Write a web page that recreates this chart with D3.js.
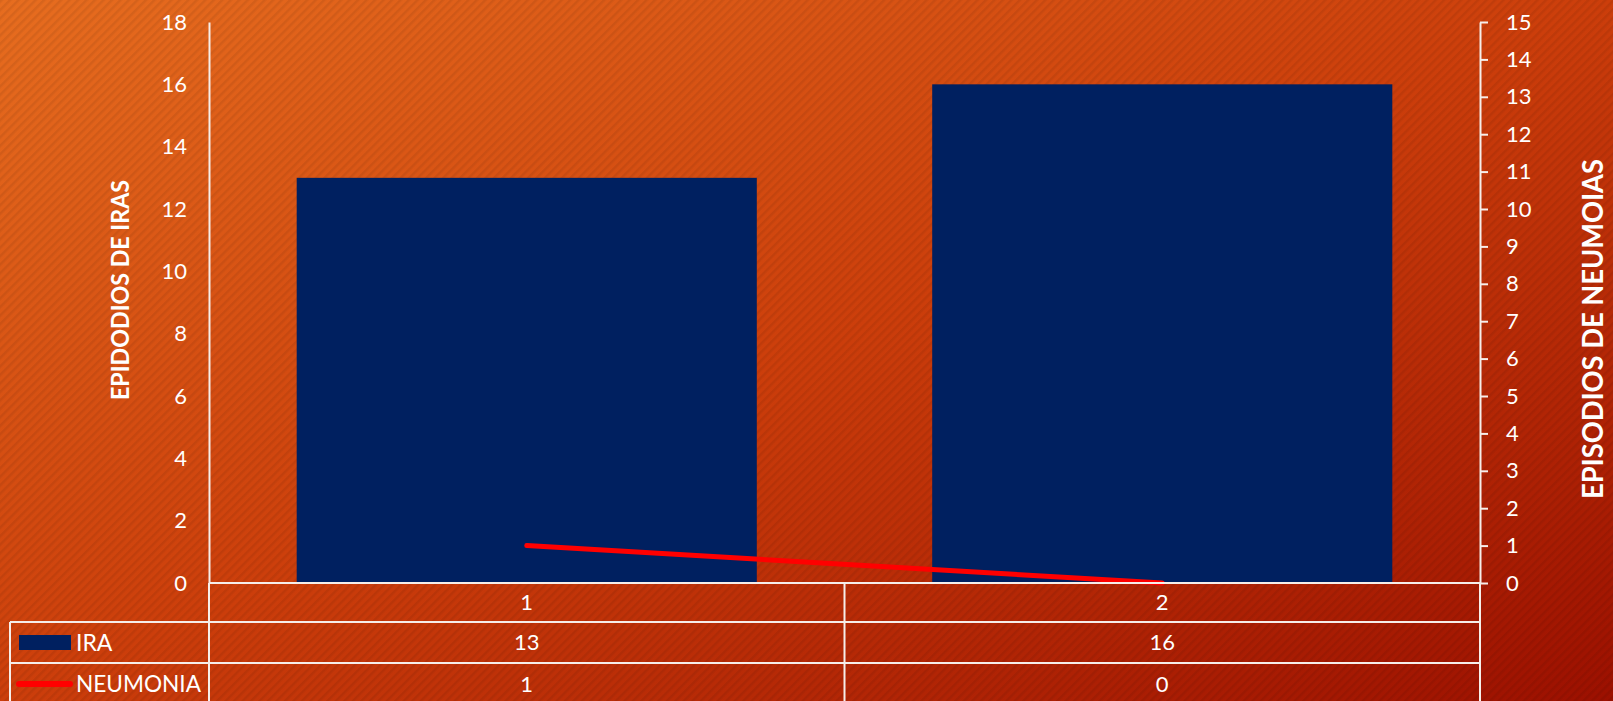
<!DOCTYPE html>
<html>
<head>
<meta charset="utf-8">
<script src="https://cdn.jsdelivr.net/npm/d3@7"></script>
<style>
  html, body { margin: 0; padding: 0; overflow: hidden; background: #c94010; }
  svg { display: block; }
  text { font-family: Lato, "Open Sans", sans-serif; fill: #ffffff; }
</style>
</head>
<body>
<svg id="chart" width="1613" height="701"></svg>
<script>
// ---- data ----
const categories = ["1", "2"];
const seriesNames = ["IRA", "NEUMONIA"];
const iraValues = [13, 16];
const neumoniaValues = [1, 0];
const leftTicks = [0, 2, 4, 6, 8, 10, 12, 14, 16, 18];
const rightTicks = [0, 1, 2, 3, 4, 5, 6, 7, 8, 9, 10, 11, 12, 13, 14, 15];
const leftTitle = "EPIDODIOS DE IRAS";
const rightTitle = "EPISODIOS DE NEUMOIAS";

// ---- layout ----
const W = 1613, H = 701;
const plotLeft = 209, plotRight = 1480, plotTop = 22, plotBottom = 583;
const row1 = 622, row2 = 663, tableBottom = 705, tableLeft = 10;

const svg = d3.select("#chart");
const defs = svg.append("defs");

const grad = defs.append("linearGradient").attr("id", "bg")
  .attr("x1", "0").attr("y1", "0").attr("x2", "1").attr("y2", "1");
grad.append("stop").attr("offset", "0").attr("stop-color", "#e76d1f");
grad.append("stop").attr("offset", "0.5").attr("stop-color", "#cc3e0b");
grad.append("stop").attr("offset", "1").attr("stop-color", "#9c1000");

const pat = defs.append("pattern").attr("id", "stripes")
  .attr("patternUnits", "userSpaceOnUse").attr("width", 6).attr("height", 6)
  .attr("patternTransform", "rotate(45)");
pat.append("rect").attr("x", 0).attr("y", 0).attr("width", 2.5).attr("height", 6)
  .attr("fill", "#000").attr("fill-opacity", 0.07);

svg.append("rect").attr("width", W).attr("height", H).attr("fill", "url(#bg)");
svg.append("rect").attr("width", W).attr("height", H).attr("fill", "url(#stripes)");

// ---- scales ----
const x = d3.scaleBand().domain(categories).range([plotLeft, plotRight])
  .paddingInner(0.276).paddingOuter(0.138);
const xCol = d3.scaleBand().domain(categories).range([plotLeft, plotRight]).padding(0);
const yL = d3.scaleLinear().domain([0, 18]).range([plotBottom, plotTop]);
const yR = d3.scaleLinear().domain([0, 15]).range([plotBottom, plotTop]);

// ---- bars ----
svg.append("g").selectAll("rect").data(categories).join("rect")
  .attr("x", d => x(d))
  .attr("width", x.bandwidth())
  .attr("y", (d, i) => yL(iraValues[i]))
  .attr("height", (d, i) => yL(0) - yL(iraValues[i]))
  .attr("fill", "#002060");

// ---- line ----
const line = d3.line()
  .x((d, i) => x(categories[i]) + x.bandwidth() / 2)
  .y(d => yR(d));
svg.append("path").datum(neumoniaValues)
  .attr("d", line)
  .attr("fill", "none").attr("stroke", "#ff0000")
  .attr("stroke-width", 5).attr("stroke-linecap", "round");

// ---- axes ----
const lineColor = "#f6eeea";
const gL = svg.append("g").attr("transform", `translate(${plotLeft},0)`)
  .call(d3.axisLeft(yL).tickValues(leftTicks).tickSize(0).tickSizeOuter(0).tickPadding(22));
gL.select(".domain").attr("stroke", lineColor).attr("stroke-width", 2);
gL.selectAll("text").style("font-size", "22px").attr("fill", "#fff");

const gR = svg.append("g").attr("transform", `translate(${plotRight},0)`)
  .call(d3.axisRight(yR).tickValues(rightTicks).tickSize(8).tickSizeOuter(0).tickPadding(18));
gR.select(".domain").attr("stroke", lineColor).attr("stroke-width", 2);
gR.selectAll(".tick line").attr("stroke", lineColor).attr("stroke-width", 2);
gR.selectAll("text").style("font-size", "22px").attr("fill", "#fff");

// ---- axis titles ----
svg.append("text")
  .attr("transform", `translate(129,290) rotate(-90)`)
  .attr("text-anchor", "middle")
  .attr("textLength", 220).attr("lengthAdjust", "spacingAndGlyphs")
  .style("font-size", "25px").style("font-weight", "bold")
  .text(leftTitle);
svg.append("text")
  .attr("transform", `translate(1603,329) rotate(-90)`)
  .attr("text-anchor", "middle")
  .attr("textLength", 340).attr("lengthAdjust", "spacingAndGlyphs")
  .style("font-size", "29px").style("font-weight", "bold")
  .text(rightTitle);

// ---- data table ----
const tg = svg.append("g").attr("stroke", lineColor).attr("stroke-width", 2);
tg.append("line").attr("x1", plotLeft).attr("x2", plotRight).attr("y1", plotBottom).attr("y2", plotBottom);
tg.append("line").attr("x1", tableLeft).attr("x2", plotRight).attr("y1", row1).attr("y2", row1);
tg.append("line").attr("x1", tableLeft).attr("x2", plotRight).attr("y1", row2).attr("y2", row2);
tg.append("line").attr("x1", tableLeft).attr("x2", tableLeft).attr("y1", row1).attr("y2", tableBottom);
tg.append("line").attr("x1", plotLeft).attr("x2", plotLeft).attr("y1", plotBottom).attr("y2", tableBottom);
categories.forEach(c => {
  const xe = xCol(c) + xCol.bandwidth();
  tg.append("line").attr("x1", xe).attr("x2", xe).attr("y1", plotBottom).attr("y2", tableBottom);
});

const tfs = "22px";
svg.append("g").selectAll("text").data(categories).join("text")
  .attr("x", d => xCol(d) + xCol.bandwidth() / 2).attr("y", (plotBottom + row1) / 2)
  .attr("dy", "0.35em").attr("text-anchor", "middle").style("font-size", tfs)
  .text(d => d);
svg.append("g").selectAll("text").data(iraValues).join("text")
  .attr("x", (d, i) => xCol(categories[i]) + xCol.bandwidth() / 2).attr("y", (row1 + row2) / 2)
  .attr("dy", "0.35em").attr("text-anchor", "middle").style("font-size", tfs)
  .text(d => d);
svg.append("g").selectAll("text").data(neumoniaValues).join("text")
  .attr("x", (d, i) => xCol(categories[i]) + xCol.bandwidth() / 2).attr("y", 684)
  .attr("dy", "0.35em").attr("text-anchor", "middle").style("font-size", tfs)
  .text(d => d);

// legend keys
svg.append("rect").attr("x", 19).attr("y", 635).attr("width", 52).attr("height", 15).attr("fill", "#002060");
svg.append("line").attr("x1", 19).attr("x2", 70).attr("y1", 684).attr("y2", 684)
  .attr("stroke", "#ff0000").attr("stroke-width", 6).attr("stroke-linecap", "round");
svg.append("text").attr("x", 76).attr("y", (row1 + row2) / 2).attr("dy", "0.35em")
  .style("font-size", "23px").text(seriesNames[0]);
svg.append("text").attr("x", 76).attr("y", 684).attr("dy", "0.35em")
  .attr("textLength", 125).attr("lengthAdjust", "spacingAndGlyphs")
  .style("font-size", "23px").text(seriesNames[1]);
</script>
</body>
</html>
